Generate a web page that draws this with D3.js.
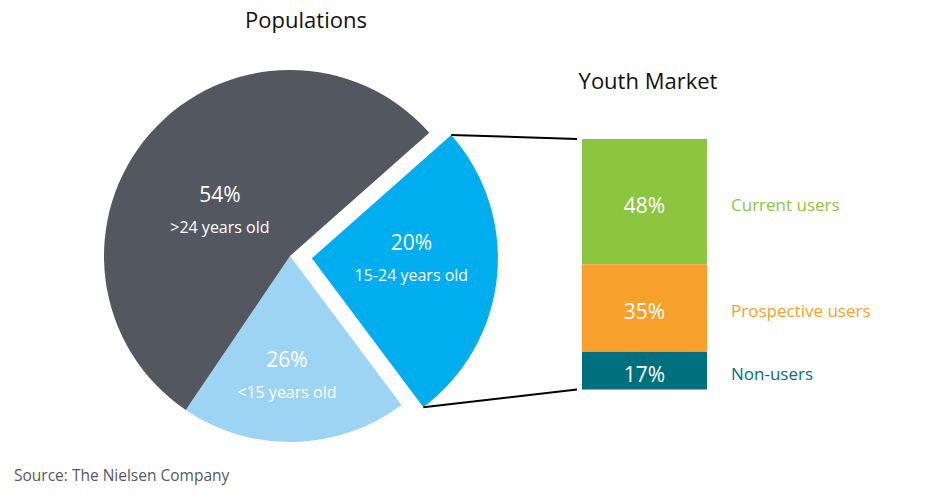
<!DOCTYPE html>
<html>
<head>
<meta charset="utf-8">
<script src="https://cdn.jsdelivr.net/npm/d3@7"></script>
<style>
  body { margin: 0; background: #fff; }
  text { font-family: "Open Sans", sans-serif; }
</style>
</head>
<body>
<svg id="chart"></svg>
<script>
// population pie (order: clockwise from the upper-right cut)
var popGroups = ["15-24 years old", "<15 years old", ">24 years old"];
var popLabels = ["20%", "26%", "54%"];
// slice sizes as actually drawn in the source picture (it draws the two youth slices swapped)
var popShares = [26.3, 19.7, 54];
var popColors = ["#00aeef", "#9dd4f3", "#53575f"];

// youth market stacked bar, top to bottom
var youthGroups = ["Current users", "Prospective users", "Non-users"];
var youthLabels = ["48%", "35%", "17%"];
var youthShares = [50, 35, 15];
var youthColors = ["#8cc540", "#f7a02b", "#00707f"];

var w = 934, h = 498;
var svg = d3.select("#chart").attr("width", w).attr("height", h);

var cx = 290, cy = 256, r = 186;
var explode = 22;

var pie = d3.pie().sort(null).value(function(d) { return d; })
  .startAngle(48.5 * Math.PI / 180)
  .endAngle(48.5 * Math.PI / 180 + 2 * Math.PI);
var arcs = pie(popShares);
var arc = d3.arc().innerRadius(0).outerRadius(r);

var g = svg.append("g").attr("transform", "translate(" + cx + "," + cy + ")");

function offset(d, i) {
  if (i != 0) return [0, 0];
  var a = (d.startAngle + d.endAngle) / 2;
  return [explode * Math.sin(a), -explode * Math.cos(a)];
}

g.selectAll("path")
  .data(arcs)
  .enter()
  .append("path")
  .attr("d", arc)
  .attr("fill", function(d, i) { return popColors[i]; })
  .attr("transform", function(d, i) {
    var o = offset(d, i);
    return "translate(" + o[0] + "," + o[1] + ")";
  });

// label radius / nudges per slice
var labelR = [100, 122, 88];
var labelDx = [0, -6, -4];
var labelDy = [-10, -3, 12];
var lab = g.selectAll(".plab")
  .data(arcs)
  .enter()
  .append("g")
  .attr("class", "plab")
  .attr("transform", function(d, i) {
    var a = (d.startAngle + d.endAngle) / 2;
    var o = offset(d, i);
    var x = o[0] + labelR[i] * Math.sin(a) + labelDx[i];
    var y = o[1] - labelR[i] * Math.cos(a) + labelDy[i];
    return "translate(" + x + "," + y + ")";
  });
lab.append("text")
  .attr("text-anchor", "middle")
  .attr("y", -8)
  .attr("fill", "#fff")
  .attr("font-size", 21)
  .text(function(d, i) { return popLabels[i]; });
lab.append("text")
  .attr("text-anchor", "middle")
  .attr("y", 23)
  .attr("fill", "#fff")
  .attr("font-size", 16)
  .text(function(d, i) { return popGroups[i]; });

svg.append("text")
  .attr("x", 306).attr("y", 28)
  .attr("text-anchor", "middle")
  .attr("font-size", 22)
  .attr("fill", "#111")
  .text("Populations");

// stacked bar
var barX = 582, barW = 125;
var yScale = d3.scaleLinear().domain([0, 100]).range([389.5, 139]);
var stacked = [];
var acc = 100;
youthShares.forEach(function(v, i) {
  stacked.push({ top: acc, bottom: acc - v, i: i });
  acc -= v;
});

svg.selectAll(".bar")
  .data(stacked)
  .enter()
  .append("rect")
  .attr("class", "bar")
  .attr("x", barX)
  .attr("width", barW)
  .attr("y", function(d) { return yScale(d.top); })
  .attr("height", function(d) { return yScale(d.bottom) - yScale(d.top); })
  .attr("fill", function(d) { return youthColors[d.i]; });

svg.selectAll(".blab")
  .data(stacked)
  .enter()
  .append("text")
  .attr("class", "blab")
  .attr("x", barX + barW / 2)
  .attr("y", function(d) { return (yScale(d.top) + yScale(d.bottom)) / 2 + 11; })
  .attr("text-anchor", "middle")
  .attr("fill", "#fff")
  .attr("font-size", 21)
  .text(function(d) { return youthLabels[d.i]; });

svg.selectAll(".leg")
  .data(stacked)
  .enter()
  .append("text")
  .attr("class", "leg")
  .attr("x", 731)
  .attr("y", function(d) { return (yScale(d.top) + yScale(d.bottom)) / 2 + 9; })
  .attr("fill", function(d) { return youthColors[d.i]; })
  .attr("font-size", 17)
  .text(function(d) { return youthGroups[d.i]; });

svg.append("text")
  .attr("x", 648).attr("y", 89)
  .attr("text-anchor", "middle")
  .attr("font-size", 22)
  .attr("fill", "#111")
  .text("Youth Market");

// connector lines from the exploded slice to the bar
var blue = arcs[0];
var o = offset(blue, 0);
var p1 = [cx + o[0] + r * Math.sin(blue.startAngle), cy + o[1] - r * Math.cos(blue.startAngle)];
var p2 = [cx + o[0] + r * Math.sin(blue.endAngle), cy + o[1] - r * Math.cos(blue.endAngle)];
svg.append("line")
  .attr("x1", p1[0]).attr("y1", p1[1])
  .attr("x2", barX - 5).attr("y2", yScale(100))
  .attr("stroke", "#000").attr("stroke-width", 2);
svg.append("line")
  .attr("x1", p2[0]).attr("y1", p2[1])
  .attr("x2", barX - 5).attr("y2", yScale(0))
  .attr("stroke", "#000").attr("stroke-width", 2);

svg.append("text")
  .attr("x", 14).attr("y", 481)
  .attr("font-size", 15.5)
  .attr("fill", "#58595b")
  .text("Source: The Nielsen Company");
</script>
</body>
</html>
